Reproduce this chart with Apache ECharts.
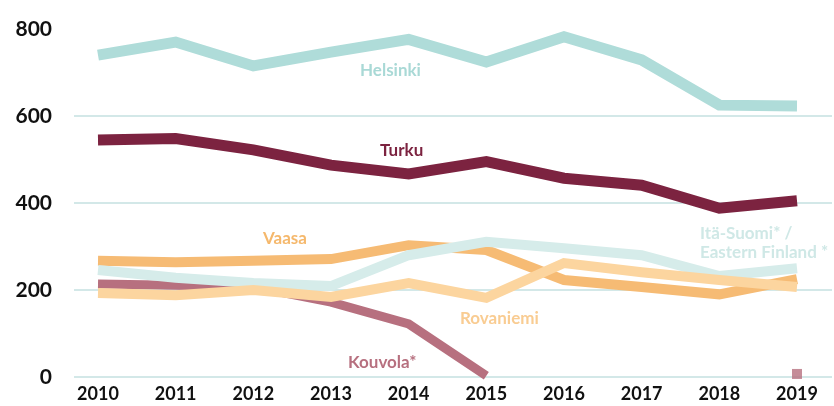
<!DOCTYPE html>
<html>
<head>
<meta charset="utf-8">
<script src="https://cdn.jsdelivr.net/npm/echarts@6/dist/echarts.min.js"></script>
<style>
  html, body { margin: 0; padding: 0; background: #fff; }
  #chart { width: 834px; height: 406px; }
</style>
</head>
<body>
<div id="chart"></div>
<script>
// data
const years = ["2010", "2011", "2012", "2013", "2014", "2015", "2016", "2017", "2018", "2019"];
const helsinki = [740, 770, 715, 747, 776, 724, 782, 729, 625, 623];
const turku = [545, 548, 522, 487, 467, 495, 457, 441, 388, 405];
const vaasa = [267, 264, 267, 271, 303, 292, 223, 207, 190, 225];
const rovaniemi = [193, 188, 200, 184, 216, 182, 262, 241, 223, 207];
const itaSuomi = [246, 228, 216, 209, 280, 311, 296, 280, 232, 250];
const kouvola = [214, 211, 207, 172, 122, 3, null, null, null, null];
const kouvolaLast = [null, null, null, null, null, null, null, null, null, 7];

const yTicks = { min: 0, max: 800, interval: 200 };

const gridColor = "#c4e1e1";
const fontFam = "Lato, 'Open Sans', sans-serif";

const chart = echarts.init(document.getElementById("chart"), null, { renderer: "canvas" });

function lineSeries(name, data, color, width) {
  return {
    name: name,
    type: "line",
    xAxisIndex: 1,
    yAxisIndex: 1,
    data: data,
    showSymbol: false,
    symbol: "none",
    connectNulls: false,
    lineStyle: { color: color, width: width, join: "miter" },
    itemStyle: { color: color },
    z: 2,
  };
}

function labelText(x, y, text, color) {
  return {
    type: "text",
    left: x,
    top: y,
    style: {
      text: text,
      fill: color,
      font: "bold 17px " + fontFam,
      lineHeight: 19,
    },
  };
}

const option = {
  animation: false,
  backgroundColor: "#fff",
  grid: [
    { left: 74, right: 2, top: 29, bottom: 29 },
    { left: 98, right: 37, top: 29, bottom: 29 },
  ],
  xAxis: [
    { type: "value", gridIndex: 0, show: false, min: 0, max: 1 },
    {
      type: "category",
      gridIndex: 1,
      data: years,
      boundaryGap: false,
      axisLine: { show: false },
      axisTick: { show: false },
      axisLabel: {
        color: "#111",
        fontFamily: fontFam,
        fontWeight: "bold",
        fontSize: 18,
        margin: 8,
      },
    },
  ],
  yAxis: [
    {
      type: "value",
      gridIndex: 0,
      min: yTicks.min,
      max: yTicks.max,
      interval: yTicks.interval,
      axisLine: { show: false },
      axisTick: { show: false },
      axisLabel: {
        color: "#111",
        fontFamily: fontFam,
        fontWeight: "bold",
        fontSize: 21,
        margin: 22,
      },
      splitLine: {
        show: true,
        lineStyle: {
          color: [gridColor, gridColor, gridColor, gridColor, "rgba(0,0,0,0)"],
          width: 1.5,
        },
      },
    },
    {
      type: "value",
      gridIndex: 1,
      min: yTicks.min,
      max: yTicks.max,
      show: false,
      splitLine: { show: false },
    },
  ],
  series: [
    lineSeries("Kouvola*", kouvola, "#b7707f", 9),
    {
      name: "Kouvola* 2019",
      type: "scatter",
      xAxisIndex: 1,
      yAxisIndex: 1,
      data: kouvolaLast,
      symbol: "rect",
      symbolSize: 10,
      itemStyle: { color: "#b7707f" },
    },
    lineSeries("Vaasa", vaasa, "#f6bb74", 10),
    lineSeries("Itä-Suomi* / Eastern Finland *", itaSuomi, "#d6ecea", 10),
    lineSeries("Rovaniemi", rovaniemi, "#fcd59f", 10),
    lineSeries("Turku", turku, "#7c2340", 11),
    lineSeries("Helsinki", helsinki, "#afdcd9", 11),
  ],
  graphic: [
    labelText(360, 61, "Helsinki", "#a9d9d6"),
    labelText(380, 141, "Turku", "#7c2340"),
    labelText(263, 229, "Vaasa", "#f5b86c"),
    labelText(460, 309, "Rovaniemi", "#f9cc92"),
    labelText(348, 353, "Kouvola*", "#b7707f"),
    labelText(700, 224, "Itä-Suomi* /\nEastern Finland *", "#cfe8e6"),
  ],
};

chart.setOption(option);
window.addEventListener("resize", () => chart.resize());
</script>
</body>
</html>
